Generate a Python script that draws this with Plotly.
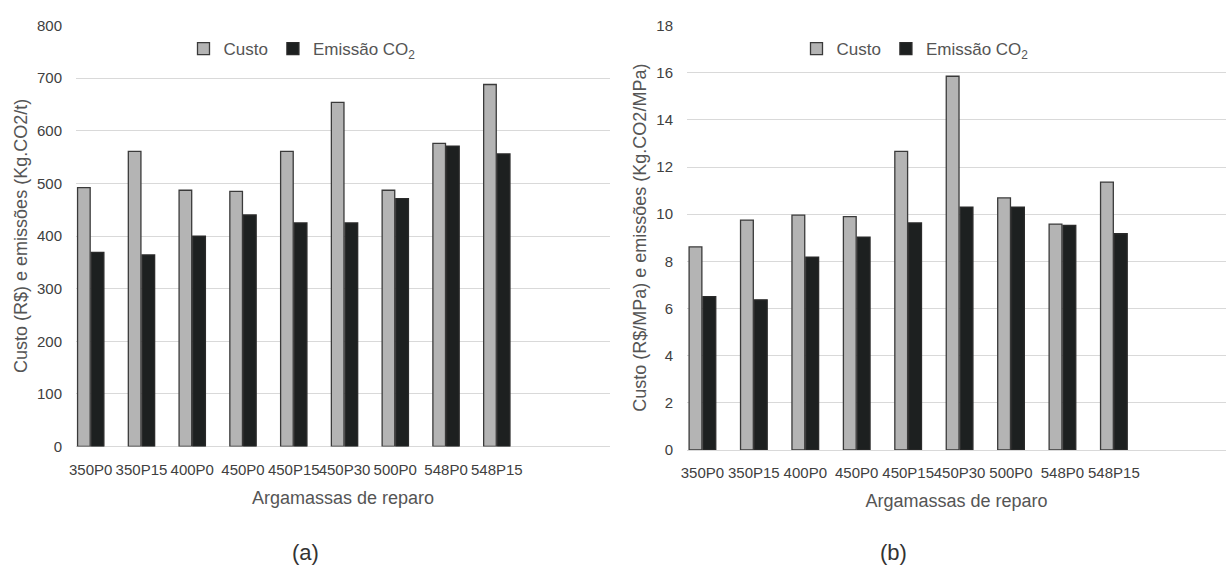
import plotly.graph_objects as go

categories = ["350P0", "350P15", "400P0", "450P0", "450P15", "450P30", "500P0", "548P0", "548P15"]

# (a) Custo (R$) e emissões (Kg.CO2/t)
custo_a = [492, 561, 487, 485, 561, 654, 487, 576, 688]
emissao_a = [369, 364, 400, 440, 425, 425, 471, 571, 556]

# (b) Custo (R$/MPa) e emissões (Kg.CO2/MPa)
custo_b = [8.61, 9.75, 9.96, 9.90, 12.66, 15.85, 10.69, 9.58, 11.36]
emissao_b = [6.50, 6.37, 8.18, 9.03, 9.63, 10.30, 10.30, 9.52, 9.17]

y_ticks_a = [0, 100, 200, 300, 400, 500, 600, 700, 800]
y_ticks_b = [0, 2, 4, 6, 8, 10, 12, 14, 16, 18]

GRAY = "#b4b4b4"
DARK = "#1d2020"
FONT = "Liberation Sans"
TICKC = "#404040"
TITLEC = "#555555"
GRID = "#d9d9d9"

W, H = 1226, 565

fig = go.Figure()

fig.add_trace(go.Bar(x=categories, y=custo_a, name="Custo", marker=dict(color=GRAY, line=dict(color="#3a3a3a", width=1.3)),
                     xaxis="x", yaxis="y", legend="legend"))
fig.add_trace(go.Bar(x=categories, y=emissao_a, name="Emissão CO<sub>2</sub>", marker=dict(color=DARK, line=dict(color="#2a2a2a", width=1.3)),
                     xaxis="x", yaxis="y", legend="legend"))
fig.add_trace(go.Bar(x=categories, y=custo_b, name="Custo", marker=dict(color=GRAY, line=dict(color="#3a3a3a", width=1.3)),
                     xaxis="x2", yaxis="y2", legend="legend2"))
fig.add_trace(go.Bar(x=categories, y=emissao_b, name="Emissão CO<sub>2</sub>", marker=dict(color=DARK, line=dict(color="#2a2a2a", width=1.3)),
                     xaxis="x2", yaxis="y2", legend="legend2"))

def px_x(p):
    return p / W

def px_y(p):
    return 1 - p / H

common_x = dict(type="category", showgrid=False, zeroline=False, showline=False, automargin=False,
                ticks="outside", ticklen=9, tickcolor="rgba(0,0,0,0)", tickangle=0,
                tickfont=dict(family=FONT, size=15, color=TICKC),
                title=dict(text="Argamassas de reparo", font=dict(family=FONT, size=18, color=TITLEC), standoff=14))
common_y = dict(showgrid=True, gridcolor=GRID, gridwidth=1, zeroline=True, zerolinecolor=GRID, zerolinewidth=1,
                showline=False, automargin=False, ticks="outside", ticklen=10, tickcolor="rgba(0,0,0,0)",
                tickfont=dict(family=FONT, size=15, color=TICKC))

fig.update_layout(
    template="none",
    width=W, height=H,
    margin=dict(l=0, r=0, t=0, b=0),
    paper_bgcolor="white", plot_bgcolor="white",
    barmode="group", bargap=0.46, bargroupgap=0.08,
    showlegend=True,
    xaxis=dict(common_x, domain=[px_x(76), px_x(610)], range=[-0.29, 10.23], anchor="y"),
    yaxis=dict(common_y, domain=[px_y(446.5), px_y(25.3)], range=[0, 800.5], tickvals=y_ticks_a, anchor="x",
               title=dict(text="Custo (R$) e emissões (Kg.CO2/t)", font=dict(family=FONT, size=18, color=TITLEC), standoff=4)),
    xaxis2=dict(common_x, domain=[px_x(687), 1.0], range=[-0.30, 10.18], anchor="y2"),
    yaxis2=dict(common_y, domain=[px_y(450), px_y(25.3)], range=[0, 18.01], tickvals=y_ticks_b, anchor="x2",
                title=dict(text="Custo (R$/MPa) e emissões (Kg.CO2/MPa)", font=dict(family=FONT, size=18, color=TITLEC), standoff=5)),
    legend=dict(orientation="h", x=px_x(302), y=px_y(49), xanchor="center", yanchor="middle",
                font=dict(family=FONT, size=17, color=TITLEC), itemwidth=30, bgcolor="rgba(0,0,0,0)"),
    legend2=dict(orientation="h", x=px_x(915), y=px_y(49), xanchor="center", yanchor="middle",
                 font=dict(family=FONT, size=17, color=TITLEC), itemwidth=30, bgcolor="rgba(0,0,0,0)"),
    annotations=[
        dict(text="(a)", x=px_x(305), y=px_y(552), xref="paper", yref="paper", showarrow=False,
             font=dict(family=FONT, size=22, color="#333333"), xanchor="center", yanchor="middle"),
        dict(text="(b)", x=px_x(893), y=px_y(552), xref="paper", yref="paper", showarrow=False,
             font=dict(family=FONT, size=22, color="#333333"), xanchor="center", yanchor="middle"),
    ],
)

fig.write_html("out.html")
